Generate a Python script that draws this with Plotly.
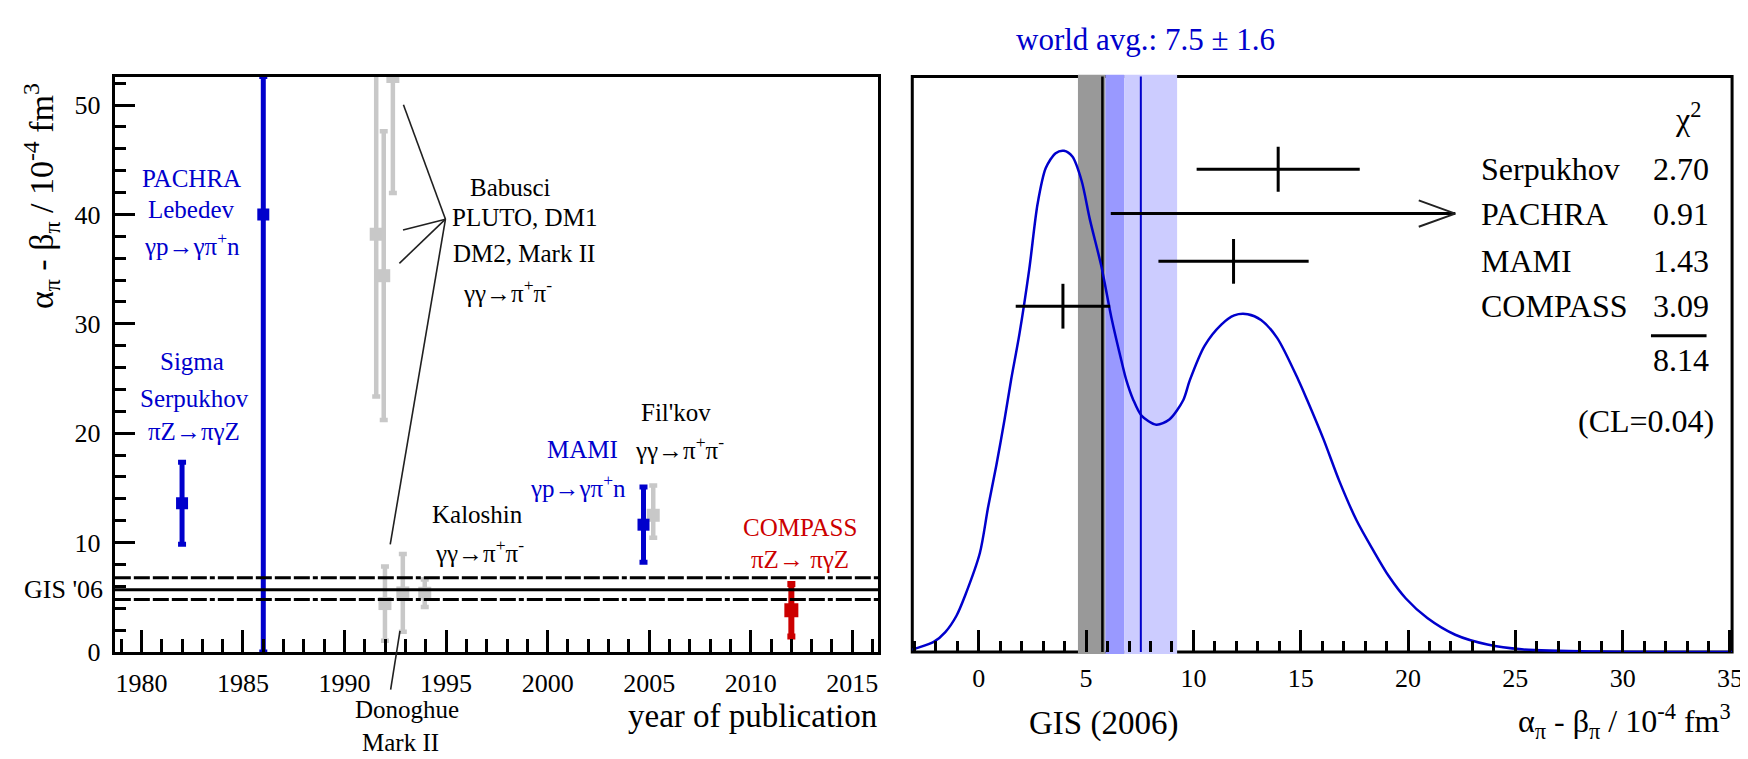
import plotly.graph_objects as go

FONT = "Liberation Serif, Times New Roman, Times, serif"
BLUE = "#0000CC"
RED = "#CC0000"
GRAY = "#C8C8C8"
W, H = 1748, 759

# ---------------- data: left panel (year of publication vs alpha-beta) ----------------
blue_year = [1982.0, 1986.0, 2004.72]
blue_val = [13.6, 40.0, 11.64]
blue_err_hi = [3.75, 12.6, 3.44]
blue_err_lo = [3.75, 40.0, 3.44]

red_year = [2012.0]
red_val = [3.82]
red_err = [2.4]

gray_labels = ["PLUTO", "DM1", "DM2", "Mark II", "Donoghue Mark II", "Kaloshin", "Fil'kov"]
gray_year = [1991.56, 1991.93, 1992.38, 1991.99, 1992.87, 1993.95, 2005.2]
gray_val = [38.2, 34.4, 52.6, 4.43, 5.4, 5.37, 12.5]
gray_err_hi = [14.85, 13.2, 10.64, 3.39, 3.55, 1.25, 2.72]
gray_err_lo = [14.85, 13.2, 10.64, 3.39, 3.55, 1.25, 2.05]

gis_val = 5.7
gis_hi = 6.8
gis_lo = 4.8

# pointer lines (hub -> ends) for the Babusci label, and for Donoghue
hub = (1994.97, 39.57)
pointer_ends_x = [1992.9, 1992.88, 1992.7, 1992.25]
pointer_ends_y = [50.03, 38.58, 35.53, 9.85]
dono_line_x = [1992.27, 1992.73]
dono_line_y = [-3.44, 1.94]

left_labels = ["PACHRA", "Lebedev", "γp→γπ<sup>+</sup>n",
               "Sigma", "Serpukhov", "πZ→πγZ",
               "Babusci", "PLUTO, DM1", "DM2, Mark II", "γγ→π<sup>+</sup>π<sup>-</sup>",
               "Kaloshin", "γγ→π<sup>+</sup>π<sup>-</sup>",
               "MAMI", "γp→γπ<sup>+</sup>n",
               "Fil'kov", "γγ→π<sup>+</sup>π<sup>-</sup>",
               "COMPASS", "πZ→ πγZ"]
left_label_x = [1982.47, 1982.47, 1982.5,
                1982.5, 1982.6, 1982.6,
                1998.17, 1998.84, 1998.84, 1998.04,
                1996.56, 1996.65,
                2001.73, 2001.49,
                2006.3, 2006.5,
                2012.42, 2012.42]
left_label_y = [43.3, 40.47, 37.33,
                26.58, 23.15, 20.15,
                42.46, 39.72, 36.43, 33.0,
                12.54, 9.26,
                18.51, 15.17,
                21.85, 18.66,
                11.34, 8.5]
left_label_col = [BLUE] * 6 + ["black"] * 6 + [BLUE] * 2 + ["black"] * 2 + [RED] * 2

# labels below the axis (Donoghue / Mark II): year and pixel row
below_labels = ["Donoghue", "Mark II"]
below_label_x = [1993.09, 1992.76]
below_label_py = [716, 749]

year_ticks = [1980, 1985, 1990, 1995, 2000, 2005, 2010, 2015]
X1_RANGE = [1978.69, 2016.29]
Y1_RANGE = [0, 52.6]

# ---------------- data: right panel ----------------
curve_x = [-3.1, -2.95, -2.1, -1.56, -1.04, -0.65, 0.05, 0.43, 0.82, 1.2, 1.5, 1.89, 2.35, 2.74, 3.12,
           3.58, 3.97, 4.36, 4.79, 5.18, 5.7, 6.18, 6.64, 6.87, 7.19, 7.58, 8.27, 8.88,
           9.53, 9.83, 10.52, 11.3, 11.9, 12.53, 13.15, 13.9, 14.9, 15.3, 16.06, 16.8,
           17.6, 18.36, 19.1, 19.9, 20.9, 22.2, 23.7, 25.3, 28.9, 35.1]
curve_y = [0.004, 0.006, 0.0175, 0.0346, 0.063, 0.097, 0.172, 0.251, 0.325, 0.404, 0.472, 0.552, 0.665,
           0.779, 0.841,
           0.867, 0.871, 0.861, 0.819, 0.751, 0.672, 0.581, 0.507, 0.473, 0.439, 0.411, 0.395, 0.404,
           0.438, 0.472, 0.532, 0.569, 0.585, 0.587, 0.577, 0.546, 0.472, 0.438, 0.370, 0.297,
           0.229, 0.178, 0.132, 0.093, 0.059, 0.030, 0.013, 0.0046, 0.0007, 0.0]

cross_names = ["Serpukhov", "PACHRA", "MAMI", "COMPASS"]
cross_row = [0.839, 0.762, 0.679, 0.601]
cross_val = [13.95, 11.87, 3.92]          # Serpukhov, MAMI, COMPASS
cross_err = [3.8, 3.5, 2.2]
cross_val_rows = [0.839, 0.679, 0.601]
pachra_lo = 6.15
pachra_arrow_tip = 22.2
chi2 = ["2.70", "0.91", "1.43", "3.09"]
chi2_sum = "8.14"
cl_text = "(CL=0.04)"

wa_val, wa_err = 7.5, 1.6
wa_line = 7.55
gis_line = 5.76
band_gray = (4.62, 5.9)
band_mid = (5.9, 6.77)
band_light = (6.77, 9.24)

# ---------------- layout geometry (pixels) ----------------
LX0, LX1 = 107.5, 876
RX0, RX1 = 910, 1735
PY_TOP, PY_BOT = 70, 657


def fx(p):
    return p / W


def fy(p):
    return 1 - p / H


def ydom(v):
    return (v - Y1_RANGE[0]) / (Y1_RANGE[1] - Y1_RANGE[0])


fig = go.Figure()

# ---- left panel traces ----
fig.add_trace(go.Scatter(
    x=gray_year, y=gray_val, mode="markers", xaxis="x", yaxis="y",
    marker=dict(symbol="square", size=13, color=GRAY),
    error_y=dict(type="data", symmetric=False, array=gray_err_hi, arrayminus=gray_err_lo,
                 color=GRAY, thickness=4.5, width=4),
    showlegend=False, hoverinfo="skip"))
fig.add_trace(go.Scatter(
    x=blue_year, y=blue_val, mode="markers", xaxis="x", yaxis="y",
    marker=dict(symbol="square", size=12, color=BLUE),
    error_y=dict(type="data", symmetric=False, array=blue_err_hi, arrayminus=blue_err_lo,
                 color=BLUE, thickness=5, width=4),
    showlegend=False, hoverinfo="skip"))
fig.add_trace(go.Scatter(
    x=red_year, y=red_val, mode="markers", xaxis="x", yaxis="y",
    marker=dict(symbol="square", size=14, color=RED),
    error_y=dict(type="data", array=red_err, color=RED, thickness=6, width=4),
    showlegend=False, hoverinfo="skip"))

DASH = "16px,3px,16px,3px,16px,3px,16px,3px,16px,3px,5px,3px"
shapes = []
for yv, dash in [(gis_hi, DASH), (gis_val, "solid"), (gis_lo, DASH)]:
    shapes.append(dict(type="line", xref="x domain", yref="y", x0=0, x1=1, y0=yv, y1=yv,
                       line=dict(color="black", width=3, dash=dash), layer="above"))

for ex, ey in zip(pointer_ends_x, pointer_ends_y):
    shapes.append(dict(type="line", xref="x", yref="y", x0=hub[0], y0=hub[1], x1=ex, y1=ey,
                       line=dict(color="#202020", width=1.6), layer="above"))
shapes.append(dict(type="line", xref="x", yref="y domain",
                   x0=dono_line_x[0], y0=ydom(dono_line_y[0]),
                   x1=dono_line_x[1], y1=ydom(dono_line_y[1]),
                   line=dict(color="#202020", width=1.6), layer="above"))

annotations = []
for t, xv, yv, c in zip(left_labels, left_label_x, left_label_y, left_label_col):
    annotations.append(dict(x=xv, y=yv, xref="x", yref="y", text=t, showarrow=False,
                            xanchor="center", yanchor="middle",
                            font=dict(family=FONT, size=25, color=c)))
for t, xv, py in zip(below_labels, below_label_x, below_label_py):
    annotations.append(dict(x=xv, y=fy(py), xref="x", yref="paper", text=t, showarrow=False,
                            xanchor="center", yanchor="middle",
                            font=dict(family=FONT, size=25, color="black")))

annotations.append(dict(x=fx(98), y=gis_val, xref="paper", yref="y", text="GIS '06",
                        showarrow=False, xanchor="right", yanchor="middle",
                        font=dict(family=FONT, size=26, color="black")))
annotations.append(dict(x=fx(33), y=fy(192), xref="paper", yref="paper", textangle=-90,
                        text="α<sub>π</sub> - β<sub>π</sub> / 10<sup>-4</sup> fm<sup>3</sup>",
                        showarrow=False, xanchor="center", yanchor="middle",
                        font=dict(family=FONT, size=34, color="black")))
annotations.append(dict(x=fx(877), y=fy(722), xref="paper", yref="paper",
                        text="year of publication", showarrow=False,
                        xanchor="right", yanchor="middle",
                        font=dict(family=FONT, size=33, color="black")))

# ---- right panel ----
shapes.append(dict(type="rect", xref="paper", yref="paper", x0=fx(RX0), x1=fx(RX1),
                   y0=fy(PY_BOT), y1=fy(PY_TOP), line=dict(color="black", width=3),
                   fillcolor="rgba(0,0,0,0)", layer="below"))
for (b0, b1), col in [(band_gray, "#999999"), (band_mid, "#9999FF"), (band_light, "#CCCCFF")]:
    shapes.append(dict(type="rect", xref="x2", yref="paper", x0=b0, x1=b1,
                       y0=fy(PY_BOT + 2), y1=fy(PY_TOP - 2), line=dict(width=0),
                       fillcolor=col, layer="below"))
shapes.append(dict(type="line", xref="x2", yref="paper", x0=gis_line, x1=gis_line,
                   y0=fy(PY_BOT), y1=fy(PY_TOP), line=dict(color="black", width=2.5), layer="below"))
shapes.append(dict(type="line", xref="x2", yref="paper", x0=wa_line, x1=wa_line,
                   y0=fy(PY_BOT), y1=fy(PY_TOP), line=dict(color=BLUE, width=2), layer="below"))

fig.add_trace(go.Scatter(
    x=curve_x, y=curve_y, mode="lines", xaxis="x2", yaxis="y2",
    line=dict(color=BLUE, width=2.5, shape="spline", smoothing=0.8),
    showlegend=False, hoverinfo="skip"))
fig.add_trace(go.Scatter(
    x=cross_val, y=cross_val_rows, mode="markers", xaxis="x2", yaxis="y2",
    marker=dict(symbol="line-ns", size=32, color="black", line=dict(width=3, color="black")),
    error_x=dict(type="data", array=cross_err, color="black", thickness=3, width=0),
    showlegend=False, hoverinfo="skip"))
fig.add_trace(go.Scatter(
    x=[pachra_lo, pachra_arrow_tip], y=[cross_row[1], cross_row[1]], mode="lines",
    xaxis="x2", yaxis="y2", line=dict(color="black", width=3),
    showlegend=False, hoverinfo="skip"))
ah_dx, ah_dy = 1.7, 0.023
fig.add_trace(go.Scatter(
    x=[pachra_arrow_tip - ah_dx, pachra_arrow_tip, pachra_arrow_tip - ah_dx],
    y=[cross_row[1] + ah_dy, cross_row[1], cross_row[1] - ah_dy], mode="lines",
    xaxis="x2", yaxis="y2", line=dict(color="#222222", width=2),
    showlegend=False, hoverinfo="skip"))

RFS = 32
for name, row, val in zip(cross_names, cross_row, chi2):
    annotations.append(dict(x=23.31, y=row, xref="x2", yref="y2", text=name, showarrow=False,
                            xanchor="left", yanchor="middle",
                            font=dict(family=FONT, size=RFS, color="black")))
    annotations.append(dict(x=34.1, y=row, xref="x2", yref="y2", text=val, showarrow=False,
                            xanchor="right", yanchor="middle",
                            font=dict(family=FONT, size=RFS, color="black")))
annotations.append(dict(x=33.05, y=0.93, xref="x2", yref="y2", text="χ<sup>2</sup>",
                        showarrow=False, xanchor="center", yanchor="middle",
                        font=dict(family=FONT, size=RFS, color="black")))
annotations.append(dict(x=34.1, y=0.507, xref="x2", yref="y2", text=chi2_sum, showarrow=False,
                        xanchor="right", yanchor="middle",
                        font=dict(family=FONT, size=RFS, color="black")))
annotations.append(dict(x=34.35, y=0.402, xref="x2", yref="y2", text=cl_text, showarrow=False,
                        xanchor="right", yanchor="middle",
                        font=dict(family=FONT, size=RFS, color="black")))
shapes.append(dict(type="line", xref="x2", yref="y2", x0=31.32, x1=33.91, y0=0.5496, y1=0.5496,
                   line=dict(color="black", width=3), layer="above"))

annotations.append(dict(x=fx(1145), y=fy(32), xref="paper", yref="paper",
                        text=f"world avg.: {wa_val} ± {wa_err}", showarrow=False,
                        xanchor="center", yanchor="middle",
                        font=dict(family=FONT, size=31, color=BLUE)))
annotations.append(dict(x=5.8, y=fy(730), xref="x2", yref="paper", text="GIS (2006)",
                        showarrow=False, xanchor="center", yanchor="middle",
                        font=dict(family=FONT, size=33, color="black")))
annotations.append(dict(x=fx(1736), y=fy(728), xref="paper", yref="paper",
                        text="α<sub>π</sub> - β<sub>π</sub> / 10<sup>-4</sup> fm<sup>3</sup>",
                        showarrow=False, xanchor="right", yanchor="middle",
                        font=dict(family=FONT, size=32, color="black")))

tickfont = dict(family=FONT, size=26, color="black")
fig.update_layout(
    width=W, height=H, margin=dict(l=0, r=0, t=0, b=0),
    paper_bgcolor="white", plot_bgcolor="rgba(0,0,0,0)",
    font=dict(family=FONT, color="black"),
    showlegend=False,
    xaxis=dict(domain=[fx(LX0), fx(LX1)], range=X1_RANGE, anchor="y",
               showline=True, mirror=True, linewidth=3, linecolor="black",
               ticks="inside", ticklen=22, tickwidth=2.5, tickcolor="black",
               tickvals=year_ticks, tickfont=tickfont, ticklabelstandoff=6,
               minor=dict(dtick=1, tick0=1980, ticks="inside", ticklen=13, tickwidth=2.5,
                          tickcolor="black"),
               showgrid=False, zeroline=False),
    yaxis=dict(domain=[fy(PY_BOT), fy(PY_TOP)], range=Y1_RANGE, anchor="x",
               showline=True, mirror=True, linewidth=3, linecolor="black",
               ticks="inside", ticklen=20, tickwidth=2.5, tickcolor="black",
               dtick=10, tick0=0, tickfont=tickfont, ticklabelstandoff=6,
               minor=dict(dtick=2, tick0=0, ticks="inside", ticklen=11, tickwidth=2.5,
                          tickcolor="black"),
               showgrid=False, zeroline=False),
    xaxis2=dict(domain=[fx(RX0), fx(RX1)], range=[-3.1, 35.1], anchor="y2",
                showline=False, ticks="inside", ticklen=22, tickwidth=2.5, tickcolor="black",
                dtick=5, tick0=0, tickfont=tickfont, ticklabelstandoff=8,
                minor=dict(dtick=1, tick0=0, ticks="inside", ticklen=11, tickwidth=2.5,
                           tickcolor="black"),
                showgrid=False, zeroline=False),
    yaxis2=dict(domain=[fy(PY_BOT), fy(PY_TOP)], range=[0, 1.0], anchor="x2",
                showline=False, ticks="", showticklabels=False,
                showgrid=False, zeroline=False),
    shapes=shapes,
    annotations=annotations,
)

fig.write_html("out.html")
